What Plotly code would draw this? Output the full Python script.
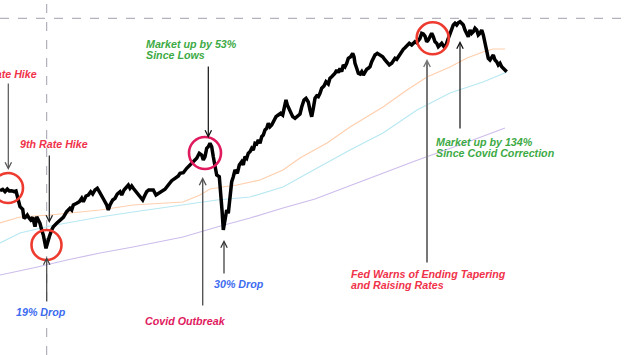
import plotly.graph_objects as go

W, H = 630, 355

# ---- main price series (x = time index, y = price level, both in chart units) ----
price_x = [0, 2.7, 5, 7.3, 9.3, 11.7, 14, 16, 18.3, 20, 22.7, 24, 26, 27.3, 29.3, 30.7, 32.7, 34, 35, 36.7,
           38.3, 40, 41.7, 43.3, 46, 47.3, 49.3, 51.7, 53.3, 56.7, 60, 63.3, 66.7, 70, 71.7, 73.3, 76.7, 79.3,
           81.7, 83.3, 86, 88.3, 90.7, 92.7, 95, 97.3, 99.3, 101.7, 104, 106.7, 108.3, 110, 112.7, 115, 117.3,
           120, 121.7, 124, 126.7, 128.3, 130, 131.7, 133.3, 136, 138.3, 140.7, 142.7, 145, 146.7, 148.7,
           150.7, 153.3, 156, 158.3, 161.7, 165, 168.3, 171.7, 175, 178.3, 180, 183.3, 186.7, 190, 193.3,
           196.7, 199.3, 201.7, 203.3, 205, 206.7, 208.3, 210, 211.7, 213.3, 215, 216.7, 219.3, 220.7, 222,
           223.3, 225, 226.7, 228.3, 230, 231.7, 233.3, 235, 237.3, 239.3, 241.7, 243.3, 245, 246.7, 248.3,
           250, 251.7, 253.3, 255, 256.7, 258.3, 260, 261.7, 263.3, 265, 266.7, 268.3, 270, 271.7, 274, 276,
           278.3, 280.7, 282.7, 284, 286, 287.3, 289.3, 290.7, 292.7, 295, 297.3, 300, 301.7, 304, 306,
           308.3, 310, 311.7, 313.3, 315, 316.7, 318.3, 320, 321.7, 324, 326, 328.3, 330, 331.7, 333.3, 335,
           336.7, 338.3, 340, 341.7, 343.3, 345, 346.7, 348.3, 350.7, 352.7, 354, 355, 356.7, 358.3, 360,
           361.7, 363.3, 365, 366.7, 368.3, 370, 371.7, 373.3, 375, 377.3, 380, 382.7, 385, 387.3, 389.3,
           391.7, 393.3, 395, 396.7, 398.3, 400, 401.7, 403.3, 405, 407.3, 409.3, 411.7, 413.3, 415, 416.7,
           418.3, 420, 421.7, 423.3, 425, 426.7, 428.3, 430, 431.7, 433.3, 435, 436.7, 438.3, 440, 441.7,
           444, 446, 448.3, 450, 451.7, 453.3, 455, 456.7, 458.3, 460, 461.7, 463.3, 465, 466.7, 468.3, 470,
           471.7, 473.3, 475, 476.7, 478.3, 480, 481.7, 483.3, 485, 486.7, 488.3, 490, 491.7, 493.3, 495,
           496.7, 498.3, 500, 501.7, 503.3, 505, 506.7]
price_px = [190.7, 189.3, 191.7, 189, 191, 190.7, 191.7, 191, 200, 206.7, 209.3, 218.3, 216.7, 215, 218.3,
            220, 217.3, 223.3, 226.7, 216.7, 220, 223.3, 230, 235, 248.3, 243.3, 236.7, 230, 226.7, 223.3,
            220, 217.3, 211.7, 208.3, 210, 205, 203.3, 201.7, 198.3, 201.7, 196, 195, 191.7, 194, 190,
            188.3, 191.7, 196.7, 200, 205, 210, 205, 200, 198.3, 194, 191.7, 195, 190, 186.7, 185, 188.3,
            186, 188.3, 191.7, 193.3, 196.7, 200, 195, 191.7, 190, 190, 190, 195, 193.3, 191.7, 189.3, 185,
            180.7, 178.3, 176, 173.3, 172.7, 168.3, 165, 161.7, 158.3, 153.3, 155, 160, 156.7, 148.3, 146.7,
            143.3, 146.7, 156.7, 166.7, 175, 176.7, 190, 210, 230, 216.7, 210, 213.3, 196.7, 181.7, 176.7,
            170, 173.3, 165, 161.7, 165, 156.7, 158.3, 153.3, 151.7, 148.3, 150, 143.3, 144, 140, 143.3,
            136.7, 135, 130, 128.3, 123.3, 126.7, 125, 120, 116.7, 115, 113.3, 115, 108.3, 100, 105, 110,
            113.3, 116.7, 118.3, 116.7, 114, 107, 100, 98.3, 102, 110, 116.7, 108.3, 98.3, 96, 96.7, 93.3,
            88.3, 86, 81.7, 84, 78.3, 76.7, 75, 73.3, 70, 72.7, 68.3, 71.7, 65, 66.7, 63.3, 58.3, 56.7,
            53.3, 56.7, 63.3, 68.3, 73.3, 74, 71.7, 75, 71.7, 69.3, 68.3, 66.7, 61.7, 58.3, 55, 53.3, 55,
            56.7, 60, 63.3, 65, 63.3, 60, 58.3, 59.3, 56.7, 53.3, 51.7, 49.3, 47.7, 45, 43.3, 45, 43.3,
            41.7, 42.7, 40, 38.3, 33.3, 34, 36, 41.7, 40, 36.7, 33.3, 36.7, 41.7, 43.3, 46.7, 45, 43.3,
            46.7, 45, 38.3, 33.3, 28.3, 25, 23.3, 25, 22.7, 21.7, 23.3, 25, 30, 33.3, 36.7, 30, 33.3, 31.7,
            28.3, 30, 35, 33.3, 30, 35, 43.3, 50, 58.3, 60, 56.7, 55, 60, 61.7, 65, 63.3, 66.7, 68.3, 70,
            71.7]
price = [H - v for v in price_px]

# ---- moving averages ----
ma_fast_x = [0, 20, 50, 100, 133, 160, 183, 200, 210, 223, 237, 260, 283, 300, 327, 350, 383, 407, 427, 450,
             467, 483, 493, 505]
ma_fast = [H - v for v in [223, 217, 215, 210, 205, 203, 202, 195, 189, 187, 185, 180, 170, 158, 143, 127,
                           107, 90, 77, 67, 58, 52, 49, 49]]
ma_mid_x = [0, 20, 50, 100, 133, 160, 183, 217, 250, 283, 310, 350, 383, 417, 450, 483, 507]
ma_mid = [H - v for v in [243, 233, 226, 217, 212, 208, 205, 200, 197, 187, 172, 150, 133, 110, 93, 82, 72]]
ma_slow_x = [0, 33, 67, 100, 133, 160, 183, 217, 250, 283, 315, 365, 415, 465, 505]
ma_slow = [H - v for v in [275, 268, 260, 253, 247, 242, 237, 227, 218, 208, 199, 180, 161, 143, 128]]

RED = "#F0324A"
GREEN = "#3DAA45"
BLUE = "#3D6CF0"
CRIMSON = "#E01A5E"
FONT = "Liberation Sans, Arial, sans-serif"

fig = go.Figure()
fig.add_trace(go.Scatter(x=ma_slow_x, y=ma_slow, mode="lines", line=dict(color="#CDBDEB", width=1.2),
                         hoverinfo="skip"))
fig.add_trace(go.Scatter(x=ma_mid_x, y=ma_mid, mode="lines", line=dict(color="#B8E8F2", width=1.2),
                         hoverinfo="skip"))
fig.add_trace(go.Scatter(x=ma_fast_x, y=ma_fast, mode="lines", line=dict(color="#FFCFAE", width=1.2),
                         hoverinfo="skip"))
fig.add_trace(go.Scatter(x=price_x, y=price, mode="lines", line=dict(color="#000000", width=3.5),
                         hoverinfo="skip"))

shapes = []
# dashed guides
shapes.append(dict(type="line", x0=0, x1=W, y0=H - 18.3, y1=H - 18.3, xref="x", yref="y",
                   line=dict(color="#A0A0AE", width=1, dash="dash"), layer="below"))
shapes.append(dict(type="line", x0=46.7, x1=46.7, y0=0, y1=H, xref="x", yref="y",
                   line=dict(color="#A0A0AE", width=1, dash="dash"), layer="below"))

# circles (cx, cy_px, r, color)
circles = [(8, 188, 15, "#EE3B30"), (46.5, 245, 15, "#EE3B30"), (205, 153, 16, CRIMSON),
           (432.7, 38.3, 16, "#EE3B30")]
for cx, cy, r, c in circles:
    shapes.append(dict(type="circle", xref="x", yref="y", x0=cx - r, x1=cx + r, y0=H - cy - r, y1=H - cy + r,
                       line=dict(color=c, width=2.6)))

annotations = []
# arrows: (head_x, head_y_px, tail_x, tail_y_px, color, width, headsize)
arrows = [(8.3, 170, 8.3, 82, "#555555", 1.2, 1.05),
          (49.3, 223, 49.3, 154, "#222222", 1.2, 1.05),
          (46.7, 257, 46.7, 303, "#444444", 1.2, 1.05),
          (208.3, 138, 208.3, 65, "#111111", 1.2, 1.05),
          (202.7, 177, 202.7, 307, "#555555", 1.4, 0.95),
          (224, 240, 224, 275, "#333333", 1.2, 1.05),
          (427, 59, 427, 264, "#777777", 2, 0.65),
          (460, 41, 460, 130, "#111111", 1.2, 1.05)]
for hx, hy, tx, ty, c, w, s in arrows:
    annotations.append(dict(x=hx, y=H - hy, ax=tx, ay=H - ty, xref="x", yref="y", axref="x", ayref="y",
                            text="", showarrow=True, arrowhead=5, arrowsize=s, arrowwidth=w,
                            arrowcolor=c))

# labels: (text, x, y_px, anchor, color)
labels = [("8th Rate Hike", 38.5, 74, "right", RED),
          ("9th Rate Hike", 18, 144, "left", RED),
          ("19% Drop", 14, 312, "left", BLUE),
          ("Market up by 53%", 144, 43.5, "left", GREEN),
          ("Since Lows", 144, 54.5, "left", GREEN),
          ("Covid Outbreak", 143, 320.5, "left", CRIMSON),
          ("30% Drop", 212, 283.5, "left", BLUE),
          ("Fed Warns of Ending Tapering", 349, 274, "left", RED),
          ("and Raising Rates", 349, 285, "left", RED),
          ("Market up by 134%", 434, 141.5, "left", GREEN),
          ("Since Covid Correction", 434, 152.5, "left", GREEN)]
for t, x, y, anc, c in labels:
    annotations.append(dict(x=x, y=H - y, xref="x", yref="y", text="<b><i>" + t + "</i></b>",
                            showarrow=False, xanchor=anc, yanchor="middle",
                            font=dict(family=FONT, size=10.7, color=c)))

fig.update_layout(
    width=W, height=H, margin=dict(l=0, r=0, t=0, b=0),
    paper_bgcolor="white", plot_bgcolor="white", showlegend=False,
    xaxis=dict(range=[0, W], visible=False, fixedrange=True),
    yaxis=dict(range=[0, H], visible=False, fixedrange=True),
    shapes=shapes, annotations=annotations,
)
fig.write_html("out.html", config={"displayModeBar": False},
               post_script="document.body.style.margin='0px';document.body.style.overflow='hidden';")
